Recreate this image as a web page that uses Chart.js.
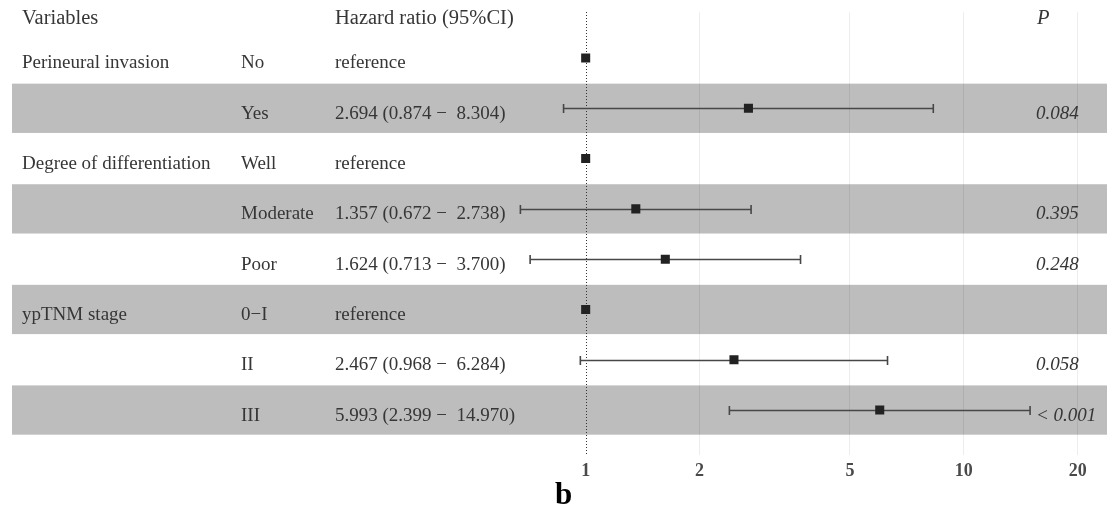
<!DOCTYPE html>
<html>
<head>
<meta charset="utf-8">
<script src="https://cdn.jsdelivr.net/npm/chart.js@4/dist/chart.umd.min.js"></script>
<style>
  html, body { margin: 0; padding: 0; background: #ffffff; }
  #wrap { width: 1107px; height: 513px; position: relative; }
</style>
</head>
<body>
<div id="wrap"><canvas id="c"></canvas></div>
<script>
// ---- data ----
const variables = ["Perineural invasion", "", "Degree of differentiation", "", "", "ypTNM stage", "", ""];
const levels = ["No", "Yes", "Well", "Moderate", "Poor", "0\u2212I", "II", "III"];
const hazardRatio = [1, 2.694, 1, 1.357, 1.624, 1, 2.467, 5.993];
const lowerCI = [null, 0.874, null, 0.672, 0.713, null, 0.968, 2.399];
const upperCI = [null, 8.304, null, 2.738, 3.700, null, 6.284, 14.970];
const hrLabels = ["reference", "2.694 (0.874 \u2212  8.304)", "reference", "1.357 (0.672 \u2212  2.738)",
                  "1.624 (0.713 \u2212  3.700)", "reference", "2.467 (0.968 \u2212  6.284)", "5.993 (2.399 \u2212  14.970)"];
const pValues = ["", "0.084", "", "0.395", "0.248", "", "0.058", "< 0.001"];
const shaded = [false, true, false, true, false, true, false, true];
const headers = ["Variables", "Hazard ratio (95%CI)", "P"];
const xTicks = [1, 2, 5, 10, 20];
const panelLabel = "b";

const rows = levels.map((_, i) => i + 1);
const FONT = "'Liberation Serif', 'Times New Roman', serif";
const TEXT = "#363636";

const forestPlugin = {
  id: 'forest',
  beforeDraw(chart) {
    const ctx = chart.ctx, y = chart.scales.y, a = chart.chartArea;
    ctx.save();
    ctx.fillStyle = '#bdbdbd';
    rows.forEach((r, i) => {
      if (!shaded[i]) return;
      const t = y.getPixelForValue(r - 0.5), b = y.getPixelForValue(r + 0.5);
      ctx.fillRect(a.left, t + 0.5, chart.width - a.left, b - t - 1);
    });
    ctx.restore();
  },
  beforeDatasetsDraw(chart) {
    const ctx = chart.ctx, x = chart.scales.x, y = chart.scales.y, a = chart.chartArea;
    ctx.save();
    // reference line at HR = 1
    const x1 = Math.round(x.getPixelForValue(1)) + 0.5;
    ctx.strokeStyle = '#333333';
    ctx.lineWidth = 1;
    ctx.setLineDash([1, 2]);
    ctx.beginPath();
    ctx.moveTo(x1, a.top);
    ctx.lineTo(x1, a.bottom);
    ctx.stroke();
    ctx.setLineDash([]);
    // confidence intervals
    ctx.strokeStyle = '#474747';
    ctx.lineWidth = 1.6;
    rows.forEach((r, i) => {
      if (lowerCI[i] == null) return;
      const py = Math.round(y.getPixelForValue(r)) + 0.5;
      const xl = x.getPixelForValue(lowerCI[i]), xr = x.getPixelForValue(upperCI[i]);
      ctx.beginPath();
      ctx.moveTo(xl, py); ctx.lineTo(xr, py);
      ctx.moveTo(xl, py - 4.5); ctx.lineTo(xl, py + 4.5);
      ctx.moveTo(xr, py - 4.5); ctx.lineTo(xr, py + 4.5);
      ctx.stroke();
    });
    ctx.restore();
  },
  afterDraw(chart) {
    const ctx = chart.ctx, y = chart.scales.y;
    ctx.save();
    ctx.fillStyle = TEXT;
    ctx.textBaseline = 'middle';
    ctx.textAlign = 'left';
    ctx.font = '20.5px ' + FONT;
    const hy = 19;
    ctx.fillText(headers[0], 22, hy);
    ctx.fillText(headers[1], 335, hy);
    ctx.font = 'italic 20.5px ' + FONT;
    ctx.fillText(headers[2], 1037, hy);
    rows.forEach((r, i) => {
      const py = y.getPixelForValue(r) + 5.5;
      ctx.font = '19px ' + FONT;
      if (variables[i]) ctx.fillText(variables[i], 22, py);
      ctx.fillText(levels[i], 241, py);
      ctx.fillText(hrLabels[i], 335, py);
      if (pValues[i]) {
        ctx.font = 'italic 19px ' + FONT;
        ctx.fillText(pValues[i], 1036, py);
      }
    });
    ctx.fillStyle = '#000000';
    ctx.font = 'bold 31px ' + FONT;
    ctx.fillText(panelLabel, 555, 496);
    ctx.restore();
  }
};

new Chart(document.getElementById('c'), {
  type: 'scatter',
  data: {
    datasets: [{
      data: rows.map((r, i) => ({ x: hazardRatio[i], y: r })),
      pointStyle: 'rect',
      pointRadius: 6.4,
      pointBackgroundColor: '#222222',
      pointBorderColor: '#222222',
      pointBorderWidth: 0,
      pointHoverRadius: 6.4
    }]
  },
  options: {
    responsive: true,
    maintainAspectRatio: false,
    animation: false,
    events: [],
    layout: { padding: { left: 12, right: 0, top: 12, bottom: 34 } },
    plugins: { legend: { display: false }, tooltip: { enabled: false } },
    scales: {
      x: {
        type: 'logarithmic',
        min: 0.0304,
        max: 23.0,
        afterBuildTicks(scale) { scale.ticks = xTicks.map(v => ({ value: v })); },
        afterFit(scale) { scale.height = 24; scale.paddingLeft = 0; scale.paddingRight = 0; },
        border: { display: false },
        grid: {
          drawTicks: false,
          color: ctx => (ctx.tick && ctx.tick.value === 1) ? 'rgba(0,0,0,0)' : 'rgba(0,0,0,0.07)',
          lineWidth: 1
        },
        ticks: {
          autoSkip: false,
          maxRotation: 0,
          padding: 6,
          color: '#4a4a4a',
          font: { family: FONT, size: 18, weight: 'bold' },
          callback: v => String(v)
        }
      },
      y: {
        type: 'linear',
        reverse: true,
        min: 0.085,
        max: 8.894,
        display: false
      }
    }
  },
  plugins: [forestPlugin]
});
</script>
</body>
</html>
